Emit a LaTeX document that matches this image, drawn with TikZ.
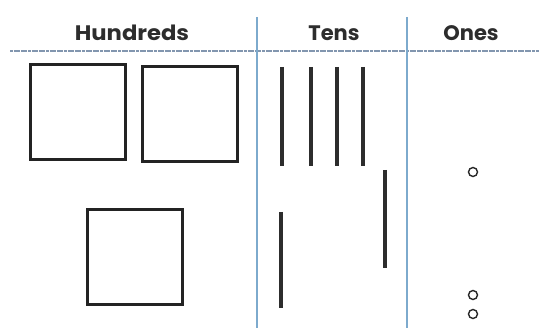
\documentclass[tikz,border=0pt]{standalone}
\usepackage{fontspec}
\setmainfont{Poppins}
\begin{document}
\begin{tikzpicture}[x=1pt,y=-1pt,
  rule/.style={draw={rgb,255:red,125;green,170;blue,205},line width=1.2pt},
  hrule/.style={draw={rgb,255:red,130;green,150;blue,175},line width=1.2pt,dash pattern=on 3pt off 0.6pt},
  head/.style={font=\fontsize{21}{23}\selectfont\bfseries, text={rgb,255:red,45;green,45;blue,45}, anchor=base},
  hund/.style={draw={rgb,255:red,35;green,35;blue,35},line width=3pt,fill=white,inner sep=0pt,minimum width=95pt,minimum height=95pt},
  ten/.style={draw={rgb,255:red,45;green,45;blue,45},line width=3.6pt},
  one/.style={circle,draw={rgb,255:red,40;green,40;blue,40},line width=1.4pt,inner sep=0pt,minimum size=9pt}
]
\useasboundingbox (0,0) rectangle (539,328);
% header
\node[head,xscale=1.08] (hh) at (132,41) {Hundreds};
\node[head] (ht) at (334,41) {Tens};
\node[head] (ho) at (471,41) {Ones};
\coordinate (hl) at (10,51);
\coordinate (hr) at (539,51);
\draw[hrule] (hl) -- (hr);
\coordinate (v1t) at (257,17); \coordinate (v1b) at (257,328);
\coordinate (v2t) at (407,17); \coordinate (v2b) at (407,328);
\draw[rule] (v1t) -- (v1b);
\draw[rule] (v2t) -- (v2b);
% hundreds
\node[hund] (s1) at (78,112.5) {};
\node[hund] (s2) at (189.5,114.5) {};
\node[hund] (s3) at (134.5,257) {};
% tens
\coordinate (t1a) at (282,67); \coordinate (t1b) at (282,166);
\coordinate (t2a) at (311,67); \coordinate (t2b) at (311,166);
\coordinate (t3a) at (337,67); \coordinate (t3b) at (337,166);
\coordinate (t4a) at (363,67); \coordinate (t4b) at (363,166);
\coordinate (t5a) at (385,170); \coordinate (t5b) at (385,268);
\coordinate (t6a) at (281,212); \coordinate (t6b) at (281,308);
\foreach \i in {1,...,6} {\draw[ten] (t\i a) -- (t\i b);}
% ones
\node[one] (o1) at (473,172) {};
\node[one] (o2) at (473,295) {};
\node[one] (o3) at (473,314) {};
\end{tikzpicture}
\end{document}
